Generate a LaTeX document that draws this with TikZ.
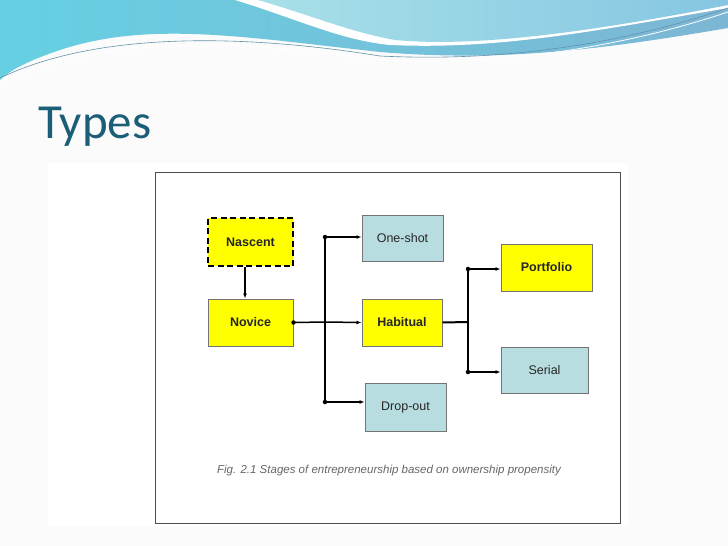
\documentclass[tikz,border=0pt]{standalone}
\usepackage{fontspec}
\setmainfont{Liberation Sans}
\newfontfamily\titlefont{Carlito}
\usetikzlibrary{arrows.meta}
\definecolor{ybox}{HTML}{FFFF00}
\definecolor{bbox}{HTML}{B7DDE1}
\definecolor{ttl}{HTML}{1B5E78}
\definecolor{hdA}{HTML}{66D0E2}
\definecolor{hdB}{HTML}{7DB6D4}
\definecolor{hdC}{HTML}{A8E0E8}
\definecolor{hdD}{HTML}{86C6E2}
\begin{document}
\begin{tikzpicture}[x=1pt,y=-1pt,
  box/.style={draw=black!55,line width=1pt,minimum width=#1,inner sep=0pt,font=\fontsize{12.5}{14}\selectfont,text=black!85},
  yb/.style={box=#1,fill=ybox,font=\bfseries\fontsize{12.5}{14}\selectfont},
  bb/.style={box=#1,fill=bbox},
  conn/.style={line width=1.5pt,-{Latex[length=5pt,width=4pt]}},
  dot/.style={circle,fill=black,inner sep=0pt,minimum size=4.5pt}]
\useasboundingbox (0,0) rectangle (728,546);
\fill[white!97!gray] (0,0) rectangle (728,546);
% header waves
\shade[left color=hdA,right color=hdB] (0,0) -- (728,0) -- (728,28) .. controls (600,50) and (500,62) .. (380,52) .. controls (250,38) and (150,20) .. (60,50) .. controls (30,60) and (10,70) .. (0,80) -- cycle;
\fill[white] (235,0) .. controls (300,20) and (340,40) .. (390,45) .. controls (500,50) and (600,30) .. (728,8) -- (728,0) -- cycle;
\shade[left color=hdC,right color=hdD] (258,0) .. controls (310,15) and (350,32) .. (395,40) .. controls (480,48) and (600,30) .. (728,5) -- (728,0) -- cycle;
\draw[hdB!80!black,line width=0.6pt] (0,78) .. controls (100,30) and (250,35) .. (380,56) .. controls (500,62) and (620,45) .. (728,8);
\draw[white,line width=0.8pt] (0,82) .. controls (110,34) and (250,40) .. (380,60) .. controls (500,66) and (620,48) .. (728,12);
% title
\node[anchor=base west,inner sep=0pt,text=ttl,font=\titlefont\fontsize{49}{52}\selectfont] (title) at (38,138) {Types};
% figure
\fill[white] (48,163) rectangle (628,526);
\draw[black!70,line width=1pt] (155,172) rectangle (620,523);
\node[yb=85pt,minimum height=48pt,draw=black,line width=2pt,dash pattern=on 6pt off 3.5pt] (nas) at (250.5,242) {Nascent};
\node[yb=85pt,minimum height=47pt] (nov) at (250.5,322.5) {Novice};
\node[bb=81pt,minimum height=46pt] (one) at (402.5,238) {One-shot};
\node[yb=80pt,minimum height=47pt] (hab) at (402,322.5) {Habitual};
\node[bb=81pt,minimum height=48pt] (drop) at (405.5,407) {Drop-out};
\node[yb=91pt,minimum height=47pt] (port) at (546.5,267.5) {Portfolio};
\node[bb=87pt,minimum height=46pt] (ser) at (544.5,370) {Serial};
\node[font=\itshape\fontsize{11.5}{13}\selectfont,text=black!60] (cap) at (389,471) {Fig. 2.1 Stages of entrepreneurship based on ownership propensity};
% connectors
\coordinate (t1a) at (325,237);
\coordinate (t1b) at (325,402);
\coordinate (t1m) at (325,322);
\coordinate (t2a) at (468,269);
\coordinate (t2b) at (468,372);
\coordinate (t2m) at (468,322);
\draw[conn] (nas.south -| 245,0) -- (nov.north -| 245,0);
\draw[line width=1.5pt] (nov.east) -- (t1m);
\node[dot] (d0) at (nov.east) {};
\draw[line width=1.5pt] (t1a) -- (t1b);
\node[dot] (d1) at (t1a) {};
\node[dot] (d2) at (t1b) {};
\draw[conn] (t1a) -- (one.west |- t1a);
\draw[conn] (t1m) -- (hab.west);
\draw[conn] (t1b) -- (drop.west |- t1b);
\draw[line width=2pt] (hab.east) -- (t2m);
\draw[line width=1.5pt] (t2a) -- (t2b);
\node[dot] (d3) at (t2a) {};
\node[dot] (d4) at (t2b) {};
\draw[conn] (t2a) -- (port.west |- t2a);
\draw[conn] (t2b) -- (ser.west |- t2b);
\end{tikzpicture}
\end{document}
